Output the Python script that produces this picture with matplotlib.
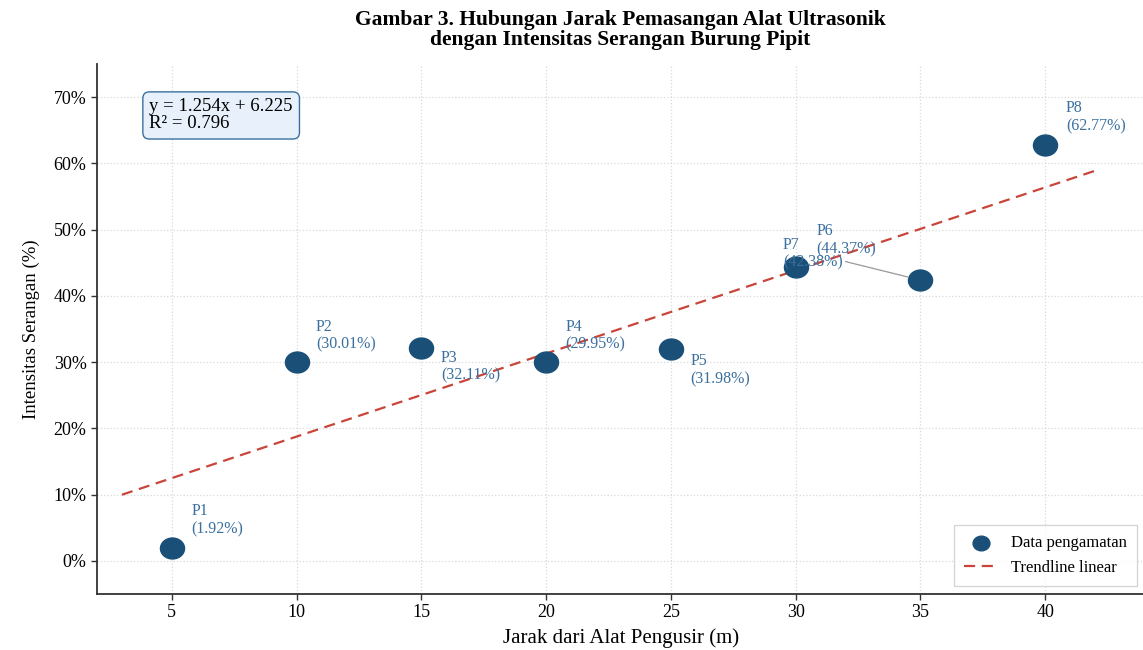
import numpy as np
import matplotlib.pyplot as plt
from matplotlib.ticker import FuncFormatter
from matplotlib.path import Path
from matplotlib.transforms import Affine2D

plt.rcParams['font.family'] = ['Liberation Serif', 'DejaVu Serif']

# data pengamatan
titik = ['P1', 'P2', 'P3', 'P4', 'P5', 'P6', 'P7', 'P8']
jarak = [5, 10, 15, 20, 25, 30, 35, 40]
intensitas = [1.92, 30.01, 32.11, 29.95, 31.98, 44.37, 42.38, 62.77]

# posisi label (offset dalam points) dan perataan vertikal
label_offset = [(14, 8), (14, 7), (14, -1), (14, 7), (14, -3), (15, 7), (-99, 7), (15, 8)]
label_va = ['bottom', 'bottom', 'top', 'bottom', 'top', 'bottom', 'bottom', 'bottom']

# regresi linear
slope, intercept = np.polyfit(jarak, intensitas, 1)
pred = slope * np.array(jarak) + intercept
r2 = 1 - np.sum((np.array(intensitas) - pred) ** 2) / np.sum((np.array(intensitas) - np.mean(intensitas)) ** 2)

# penanda elips (sedikit lebih lebar dari tinggi)
elips = Path.unit_circle().transformed(Affine2D().scale(1.15, 1.0))

fig = plt.figure(figsize=(11.43, 6.5), dpi=100)
ax = fig.add_axes([97 / 1143, 56 / 650, 1048 / 1143, 530 / 650])

ax.grid(True, color='#d0d0d0', linestyle=':', linewidth=0.9, alpha=0.8)
ax.set_axisbelow(True)

ax.scatter(jarak, intensitas, s=300, marker=elips, color='#1a4f78', zorder=3, label='Data pengamatan')

xs = np.linspace(3, 42, 100)
ax.plot(xs, slope * xs + intercept, linestyle='--', color='#c9453a', linewidth=1.6,
        dashes=(5, 3), zorder=2, label='Trendline linear')

for i in range(len(titik)):
    teks = f'{titik[i]}\n({intensitas[i]:.2f}%)'
    if titik[i] == 'P7':
        ax.annotate(teks, xy=(jarak[i], intensitas[i]), xytext=label_offset[i],
                    textcoords='offset points', fontsize=11.5, color='#3a6f9e',
                    va=label_va[i], ha='left', linespacing=1.15,
                    arrowprops=dict(arrowstyle='-', color='#999999', lw=0.9, shrinkA=0, shrinkB=9))
    else:
        ax.annotate(teks, xy=(jarak[i], intensitas[i]), xytext=label_offset[i],
                    textcoords='offset points', fontsize=11.5, color='#3a6f9e',
                    va=label_va[i], ha='left', linespacing=1.15)

ax.text(0.05, 0.935, f'y = {slope:.3f}x + {intercept:.3f}\nR² = {r2:.3f}',
        transform=ax.transAxes, fontsize=13.5, va='top', ha='left', linespacing=1.0,
        bbox=dict(boxstyle='round,pad=0.35', facecolor='#e8f1fb', edgecolor='#3a6f9e', linewidth=1))

ax.set_xlim(2, 44)
ax.set_ylim(-5, 75)
ax.set_xticks(jarak)
ax.set_yticks(range(0, 71, 10))
ax.yaxis.set_major_formatter(FuncFormatter(lambda v, p: f'{v:.0f}%'))
ax.tick_params(labelsize=13, length=4, width=1, color='#333333')

ax.spines['top'].set_visible(False)
ax.spines['right'].set_visible(False)
ax.spines['left'].set_linewidth(1.3)
ax.spines['bottom'].set_linewidth(1.3)
ax.spines['left'].set_color('#333333')
ax.spines['bottom'].set_color('#333333')

ax.set_xlabel('Jarak dari Alat Pengusir (m)', fontsize=15, labelpad=5)
ax.set_ylabel('Intensitas Serangan (%)', fontsize=13.5, labelpad=10)
fig.text(0.5 + 0.5 * (97 / 1143), 0.985,
         'Gambar 3. Hubungan Jarak Pemasangan Alat Ultrasonik\ndengan Intensitas Serangan Burung Pipit',
         ha='center', va='top', fontsize=15.5, fontweight='bold', linespacing=1.0)

ax.legend(loc='lower right', fontsize=12, frameon=True, fancybox=False,
          edgecolor='#cccccc', borderpad=0.6, markerscale=0.7)

fig.savefig('out.png', dpi=100)
